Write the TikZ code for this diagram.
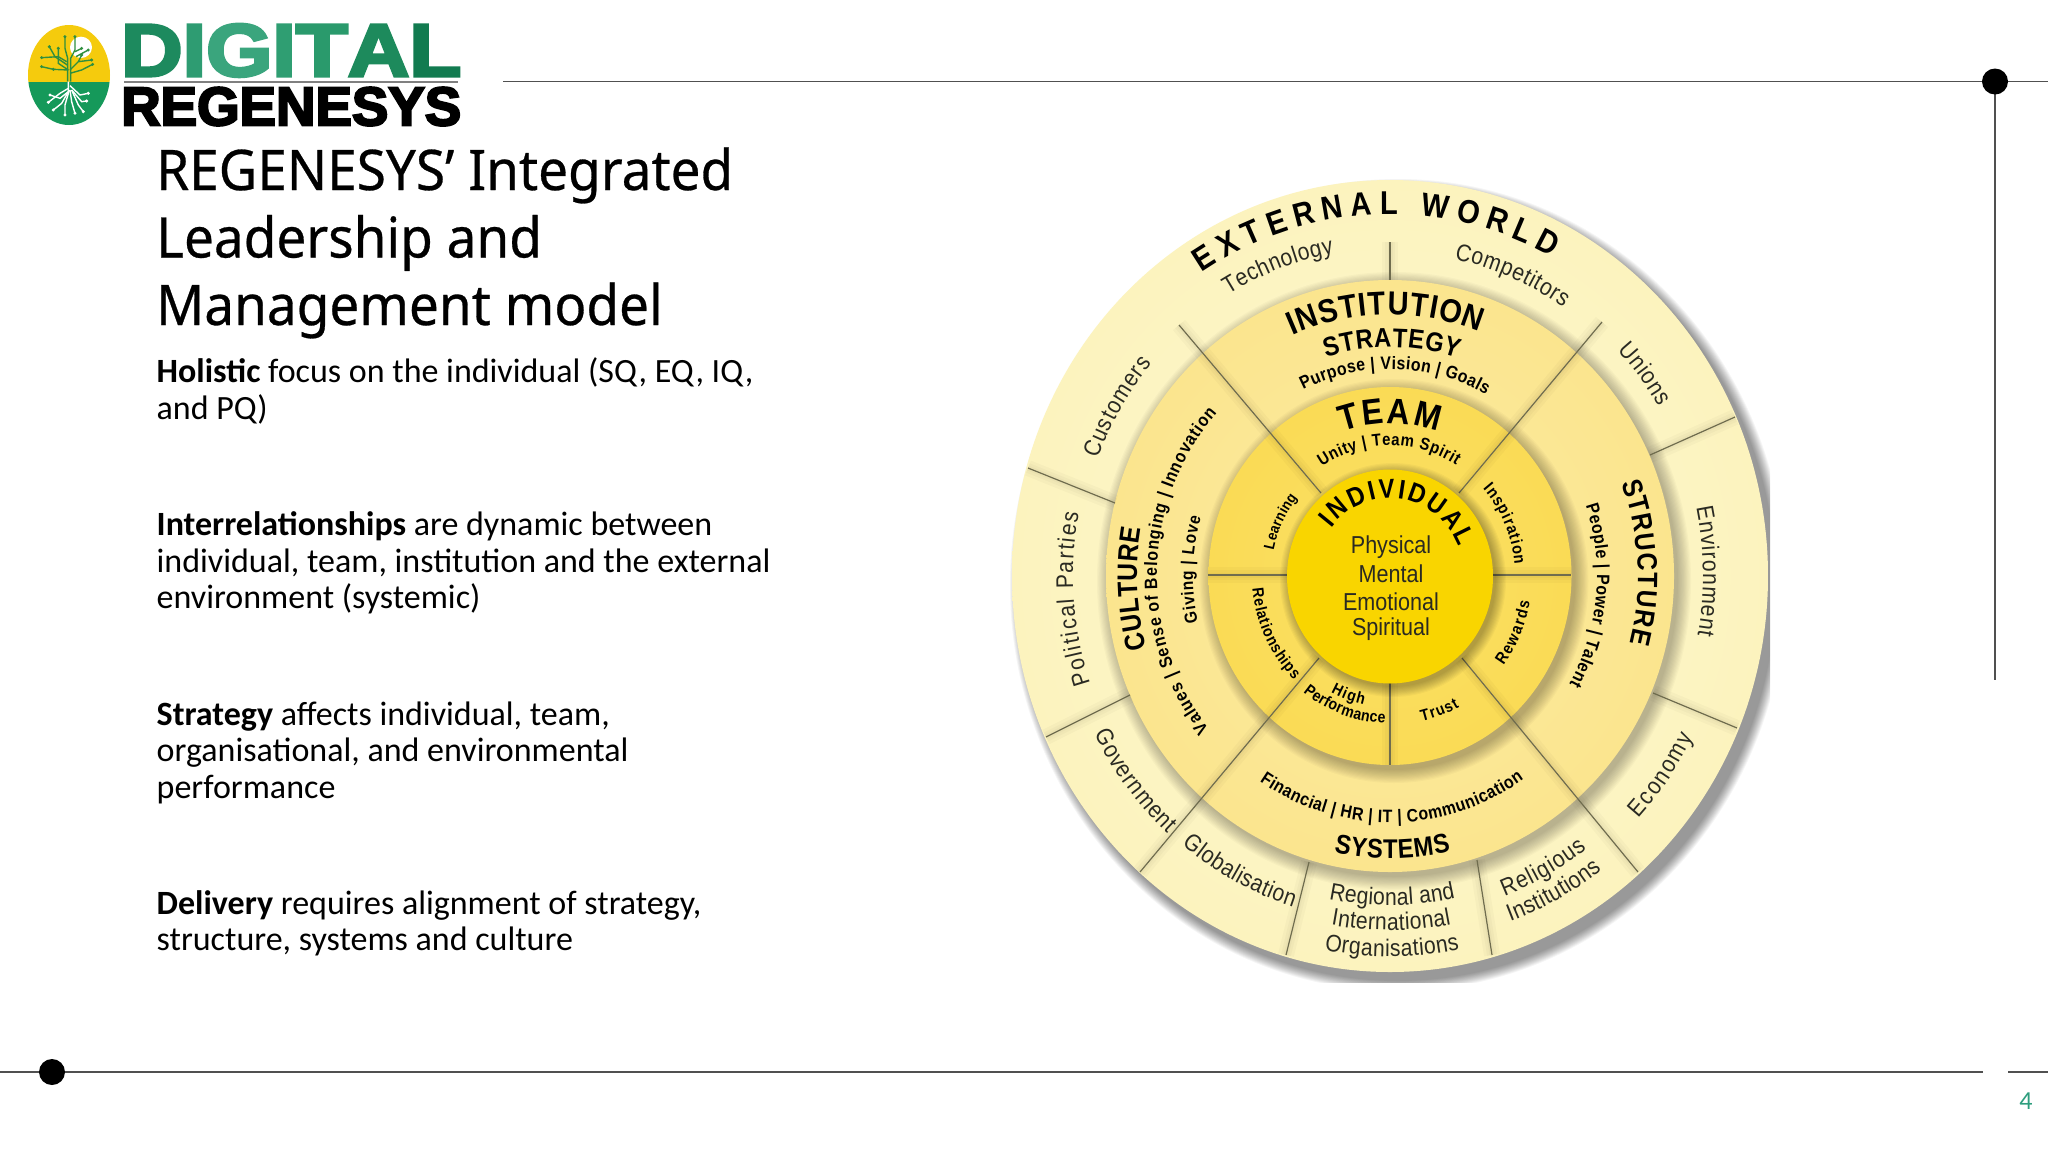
\documentclass[tikz,border=0pt]{standalone}
\usepackage{fontspec}
\usetikzlibrary{decorations.text}
\setmainfont{Carlito}
\newfontfamily\titlefont[FakeStretch=0.948,FakeBold=0.5]{Noto Sans}
\newfontfamily\dg[FakeStretch=0.88]{Liberation Sans}
\newfontfamily\logofont[BoldFeatures={FakeBold=4}]{Liberation Sans}
\definecolor{outerring}{HTML}{FEF8D2}
\definecolor{outerringb}{HTML}{FCF3BE}
\definecolor{midring}{HTML}{FCEBA3}
\definecolor{midringb}{HTML}{FBE58E}
\definecolor{teamring}{HTML}{FBE068}
\definecolor{teamringb}{HTML}{FADB55}
\definecolor{indiv}{HTML}{F9D500}
\definecolor{spokec}{HTML}{6F6C4E}
\definecolor{ruleC}{HTML}{505050}
\definecolor{pagenum}{HTML}{2E9E7E}
\definecolor{softtxt}{HTML}{2A2A22}
\definecolor{leafd}{HTML}{2F8F3E}
\definecolor{logoyellow}{HTML}{F5CB0D}
\definecolor{logogreen}{HTML}{15995A}
\tikzset{
  ruleline/.style={draw=ruleC,line width=1.5pt},
  blackdot/.style={fill=black},
  titleline/.style={anchor=base west,inner sep=0pt,font=\titlefont\fontsize{56}{60}\selectfont},
  bodyline/.style={anchor=base west,inner sep=0pt,font=\fontsize{34}{36}\selectfont},
  centerline/.style={inner sep=0pt,text=softtxt,font=\dg\fontsize{24.5}{26}\selectfont},
  spoke/.style={draw=spokec,line width=1.2pt},
  halo/.style={draw=black,opacity=0.025,line cap=butt},
  treeA/.style={draw=leafd,line width=1.4pt},
  treeB/.style={draw=white,line width=1.4pt}
}
% curved text: baseline x radius, start angle, end angle, font size, text
\newcommand{\ctb}[5]{\pgfmathsetmacro\ryy{1.045*#1}%
  \path[decorate,decoration={text along path,text format delimiters={<}{>},text align={fit to path},
     text={<\dg\bfseries\fontsize{#4}{#4}\selectfont>#5}}]
     (#2:#1pt and \ryy pt) arc[start angle=#2,end angle=#3,x radius=#1pt,y radius=\ryy pt];}
\newcommand{\ctr}[5]{\pgfmathsetmacro\ryy{1.045*#1}%
  \path[decorate,decoration={text along path,text format delimiters={<}{>},text align={fit to path},
     text={<\dg\fontsize{#4}{#4}\selectfont\color{softtxt}>#5}}]
     (#2:#1pt and \ryy pt) arc[start angle=#2,end angle=#3,x radius=#1pt,y radius=\ryy pt];}
% disc with soft shadow: x radius, y radius, colour a, colour b, dx, dy, blur
\newcommand{\softdisc}[7]{%
  \foreach \i in {0,...,11}{\fill[black,opacity=0.022] (#5,#6) ellipse [x radius=#1+#7-#7*\i/11,y radius=#2+#7-#7*\i/11];}
  \shade[inner color=#3,outer color=#4] (0,0) ellipse [x radius=#1,y radius=#2];}
\newcommand{\softspoke}[2]{%
  \draw[halo,line width=16pt] #1 -- #2; \draw[halo,line width=10pt] #1 -- #2; \draw[halo,line width=5pt] #1 -- #2;
  \draw[spoke] #1 -- #2;}
\begin{document}
\begin{tikzpicture}[x=1pt,y=-1pt]
\useasboundingbox (0,0) rectangle (2048,1152);
\fill[white] (0,0) rectangle (2048,1152);

% frame rules
\coordinate (topL) at (503,81.5); \coordinate (topR) at (2048,81.5);
\coordinate (topDot) at (1995,81.5); \coordinate (vEnd) at (1995,680);
\coordinate (botL) at (0,1072); \coordinate (botM) at (1983,1072);
\coordinate (botN) at (2008,1072); \coordinate (botR) at (2048,1072);
\draw[ruleline] (topL) -- (topR);
\draw[ruleline] (topDot) -- (vEnd);
\draw[ruleline] (botL) -- (botM);
\draw[ruleline] (botN) -- (botR);
\fill[blackdot] (topDot) circle (13);
\fill[blackdot] (52,1072) circle (13);
\node[inner sep=0pt,text=pagenum,font=\fontsize{26}{28}\selectfont] (pageno) at (2026,1101) {4};

% logo
\begin{scope}
  \clip (69,75) ellipse [x radius=41,y radius=50];
  \fill[logoyellow] (20,20) rectangle (120,82);
  \fill[logogreen] (20,82) rectangle (120,130);
\end{scope}
\begin{scope}[shift={(20,15)},x=0.3333pt,y=-0.3333pt]
  \fill[white] (183,97) ellipse [x radius=33,y radius=32];
  \foreach \p in {
    {(143,200)--(143,130)--(135,100)--(135,65)},
    {(152,200)--(152,130)--(165,105)--(165,65)},
    {(145,165)--(115,145)--(115,100)},
    {(145,165)--(100,163)},
    {(142,150)--(105,125)--(88,95)},
    {(140,140)--(115,125)--(65,128)},
    {(100,163)--(65,155)},
    {(150,165)--(175,140)--(215,135)},
    {(150,175)--(185,165)--(218,148)},
    {(165,110)--(185,100)},
    {(168,125)--(205,105)},
    {(175,140)--(185,120)}}
    {\draw[treeA] \p;}
  \foreach \q in {(135,65),(165,65),(115,100),(100,163),(88,95),(65,128),(65,155),(215,135),(218,148),(185,100),(205,105),(185,120)}
    {\fill[leafd] \q circle (5);}
  \foreach \p in {
    {(145,200)--(145,230)--(120,250)--(90,240)},
    {(145,220)--(120,235)--(85,262)},
    {(148,225)--(125,265)--(100,285)},
    {(148,225)--(135,270)--(135,300)},
    {(150,225)--(155,260)--(165,295)},
    {(150,212)--(180,240)--(205,235)},
    {(155,225)--(185,260)--(200,258)},
    {(155,225)--(175,270)--(190,290)}}
    {\draw[treeB] \p;}
  \foreach \q in {(90,240),(85,262),(100,285),(135,300),(165,295),(205,235),(200,258),(190,290)}
    {\fill[white] \q circle (5);}
\end{scope}
\node[anchor=south west,inner sep=0pt] (digital) at (121,77) {\resizebox{340pt}{52pt}{\logofont\bfseries\fontsize{72}{72}\selectfont
  \textcolor[HTML]{1D8A5E}{D}\textcolor[HTML]{2E9C72}{I}\textcolor[HTML]{3AA57D}{G}\textcolor[HTML]{2F9E72}{I}\textcolor[HTML]{2A9A6C}{T}\textcolor[HTML]{1D8A5C}{A}\textcolor[HTML]{127B50}{L}}};
\coordinate (logoA) at (124,82); \coordinate (logoB) at (458,82);
\draw[draw=gray,line width=1.2pt] (logoA) -- (logoB);
\node[anchor=south west,inner sep=0pt] (regen) at (121,126) {\resizebox{340pt}{38pt}{\logofont\bfseries\fontsize{72}{72}\selectfont REGENESYS}};

% title
\node[titleline] (t1) at (156,190) {REGENESYS’ Integrated};
\node[titleline] (t2) at (156,257.5) {Leadership and};
\node[titleline] (t3) at (156,325) {Management model};

% body
\node[bodyline] (b1) at (156.5,382.7) {\textbf{Holistic} focus on the individual (SQ, EQ, IQ,};
\node[bodyline] (b2) at (156.5,419.3) {and PQ)};
\node[bodyline] (b3) at (156.5,535.5) {\textbf{Interrelationships} are dynamic between};
\node[bodyline] (b4) at (156.5,572.2) {individual, team, institution and the external};
\node[bodyline] (b5) at (156.5,608.8) {environment (systemic)};
\node[bodyline] (b6) at (156.5,725) {\textbf{Strategy} affects individual, team,};
\node[bodyline] (b7) at (156.5,761.5) {organisational, and environmental};
\node[bodyline] (b8) at (156.5,798.1) {performance};
\node[bodyline] (b9) at (156.5,914.2) {\textbf{Delivery} requires alignment of strategy,};
\node[bodyline] (b10) at (156.5,950.8) {structure, systems and culture};

% wheel
\begin{scope}
\clip (990,160) rectangle (1770,982);
\begin{scope}[shift={(1390,576)},x=1pt,y=1pt]
  \foreach \i in {0,...,11}{\fill[black,opacity=0.04] (8,-9) ellipse [x radius=378+10-10*\i/11,y radius=396+10-10*\i/11];}
  \shade[inner color=outerring,outer color=outerringb] (0,0) ellipse [x radius=378,y radius=396];
  \softdisc{284}{296}{midring}{midringb}{4}{-5}{13}
  \softdisc{181.5}{189}{teamring}{teamringb}{4}{-5}{13}
\end{scope}
\end{scope}

% spokes
\foreach \a/\b in {
  {(1390,242)}/{(1390,280)},
  {(1028,468)}/{(1115,503)},
  {(1735,417)}/{(1650,455)},
  {(1046,737)}/{(1130,695)},
  {(1737,728)}/{(1653,693)},
  {(1286,955)}/{(1309,862)},
  {(1492,955)}/{(1477,860)},
  {(1638,872)}/{(1462,658)},
  {(1140,872)}/{(1319,658)},
  {(1179,325)}/{(1321,493)},
  {(1602,322)}/{(1459,493)},
  {(1208,575)}/{(1287,575)},
  {(1493,575)}/{(1571,575)},
  {(1390,683)}/{(1390,765)}}
  {\softspoke{\a}{\b}}

\begin{scope}[shift={(1390,576)},x=1pt,y=1pt]
  \foreach \i in {0,...,9}{\fill[black,opacity=0.032] (3,-4) ellipse [x radius=103+10-10*\i/9,y radius=107+10-10*\i/9];}
  \fill[indiv] (0,-0.5) ellipse [x radius=103,y radius=107];

  % external world
  \ctb{346}{123}{62}{33}{EXTERNAL WORLD}
  \ctr{314}{121}{100.3}{24}{Technology}
  \ctr{310}{78}{56}{24}{Competitors}
  \ctr{314}{43.5}{31}{24}{Unions}
  \ctr{313}{12}{-10.5}{24}{Environment}
  \ctr{340}{-43}{-27}{24}{Economy}
  \ctr{327}{-69.5}{-53}{24}{Religious}
  \ctr{352}{-70}{-53}{24}{Institutions}
  \ctr{315}{258.8}{282}{24}{Regional and}
  \ctr{339}{260}{280.4}{24}{International}
  \ctr{364}{259.6}{281}{24}{Organisations}
  \ctr{331}{231}{253}{24}{Globalisation}
  \ctr{332}{207}{228}{24}{Government}
  \ctr{317}{199}{169}{24}{Political Parties}
  \ctr{313}{159}{139.5}{24}{Customers}
  % institution ring
  \ctb{250}{113}{69}{33}{INSTITUTION}
  \ctb{219}{107}{72}{27}{STRATEGY}
  \ctb{198}{116}{61}{18}{Purpose | Vision | Goals}
  \ctb{248}{21}{-15}{28}{STRUCTURE}
  \ctb{207}{19}{-30}{18}{People | Power | Talent}
  \ctb{253}{196}{169.5}{28}{CULTURE}
  \ctb{233}{219}{138}{18}{Values | Sense of Belonging | Innovation}
  \ctb{197}{193}{163.5}{17.5}{Giving | Love}
  \ctb{270}{258}{283}{27}{SYSTEMS}
  \ctb{236}{236.5}{304.5}{18}{Financial | HR | IT | Communication}
  % team ring
  \ctb{146}{109}{71}{36}{TEAM}
  \ctb{125}{123}{58}{17}{Unity | Team Spirit}
  \ctb{119}{168}{141}{15}{Learning}
  \ctb{125}{42}{5}{16.5}{Inspiration}
  \ctb{142}{-37}{-10}{16.5}{Rewards}
  \ctb{138}{185}{226}{16}{Relationships}
  \ctb{126}{242}{258}{16}{High}
  \ctb{141}{232}{268}{16}{Performance}
  \ctb{143}{283}{299}{16}{Trust}
  % individual
  \ctb{74.5}{142}{22}{27}{INDIVIDUAL}
\end{scope}
\node[centerline] (c1) at (1391,547) {Physical};
\node[centerline] (c2) at (1391,574) {Mental};
\node[centerline] (c3) at (1391,602) {Emotional};
\node[centerline] (c4) at (1391,629) {Spiritual};
\end{tikzpicture}
\end{document}
